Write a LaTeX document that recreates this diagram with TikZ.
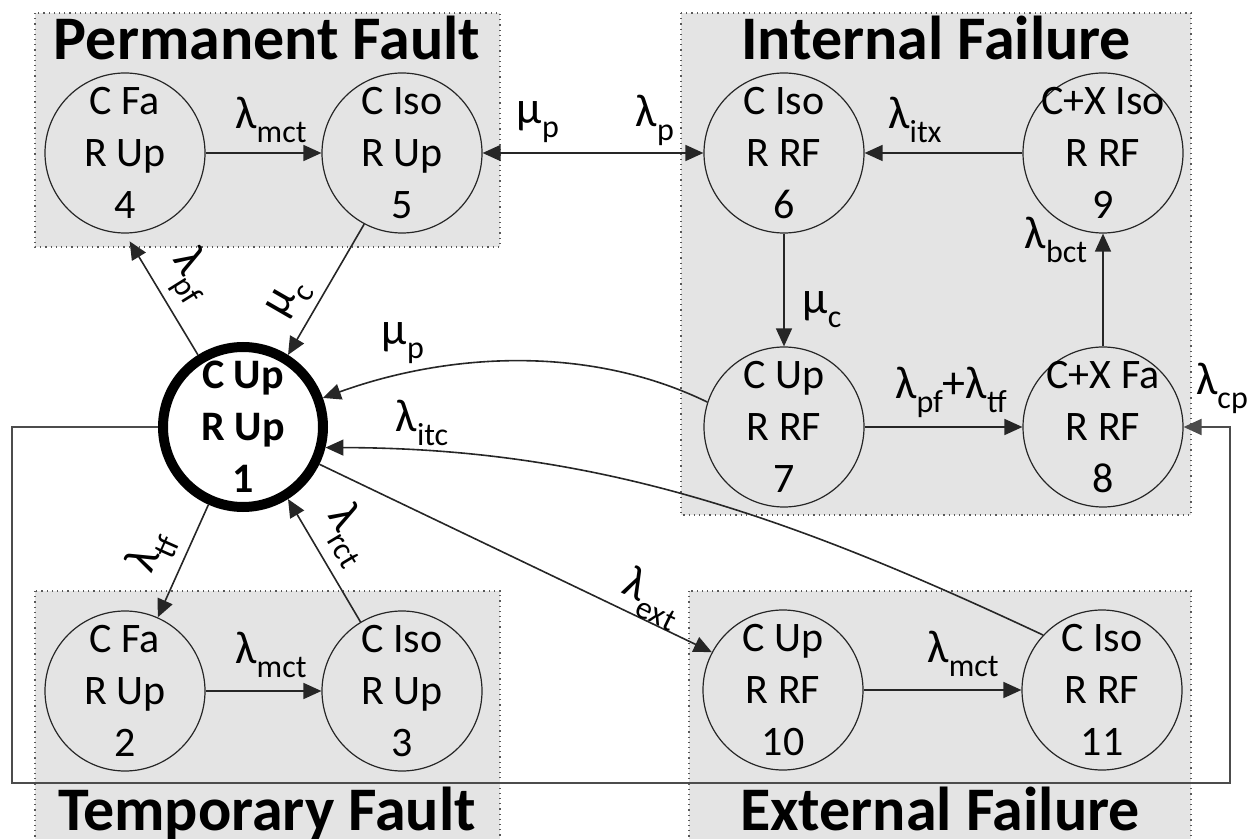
\documentclass[tikz,border=0pt]{standalone}
\usepackage{fontspec}
\setmainfont{Carlito}
\usetikzlibrary{arrows.meta}
\definecolor{boxgray}{RGB}{228,228,228}
\newcommand\sbs[1]{\raisebox{-7pt}{\fontsize{16}{16}\selectfont #1}}
\newcommand\stt[3]{\parbox[c][40pt][c]{40pt}{\centering\makebox[0pt]{#1}\\\makebox[0pt]{#2}\\\makebox[0pt]{#3}}}
\begin{document}
\begin{tikzpicture}[x=0.5pt,y=-0.5pt,
  box/.style={draw=black!65, dotted, line width=0.6pt, fill=boxgray},
  state/.style={circle, draw=black!85, line width=0.6pt, fill=boxgray, minimum size=80pt, inner sep=0pt, font=\fontsize{21}{26}\selectfont},
  startstate/.style={state, line width=5pt, draw=black, fill=white, font=\fontsize{21}{26}\selectfont\bfseries},
  arr/.style={-{Triangle[length=9pt,width=8pt]}, line width=0.8pt, draw=black!85},
  dbl/.style={{Triangle[length=9pt,width=8pt]}-{Triangle[length=9pt,width=8pt]}, line width=0.8pt, draw=black!85},
  loopline/.style={arr, draw=black!70, line width=1pt},
  lab/.style={font=\fontsize{23}{26}\selectfont, inner sep=0pt},
  title/.style={font=\fontsize{31}{31}\selectfont\bfseries, anchor=base, inner sep=0pt}
]
\useasboundingbox (0,0) rectangle (1253,839);
% group boxes
\draw[box] (35,13) rectangle (500,247);
\draw[box] (681,13) rectangle (1191,515);
\draw[box] (35,591) rectangle (500,850);
\draw[box] (689,591) rectangle (1191,850);
% titles
\node[title] (tPF) at (267,60) {Permanent Fault};
\node[title] (tIF) at (936,60) {Internal Failure};
\node[title] (tTF) at (267,830) {Temporary Fault};
\node[title] (tEF) at (940,830) {External Failure};
% states
\node[startstate] (n1) at (243,427) {\stt{C Up}{R Up}{1}};
\node[state] (n2) at (125,691) {\stt{C Fa}{R Up}{2}};
\node[state] (n3) at (402,691) {\stt{C Iso}{R Up}{3}};
\node[state] (n4) at (125,153) {\stt{C Fa}{R Up}{4}};
\node[state] (n5) at (402,153) {\stt{C Iso}{R Up}{5}};
\node[state] (n6) at (784,153) {\stt{C Iso}{R RF}{6}};
\node[state] (n7) at (784,427) {\stt{C Up}{R RF}{7}};
\node[state] (n8) at (1103,427) {\stt{C+X Fa}{R RF}{8}};
\node[state] (n9) at (1103,153) {\stt{C+X Iso}{R RF}{9}};
\node[state] (n10) at (783,690) {\stt{C Up}{R RF}{10}};
\node[state] (n11) at (1102,690) {\stt{C Iso}{R RF}{11}};
% loop from 1 to 8
\coordinate (lpA) at (12,783);
\coordinate (lpB) at (1230,783);
\draw[loopline] (n1.west) -| (lpA) -- (lpB) |- (n8.east);
% connectors
\draw[arr] (n4) -- (n5);
\draw[dbl] (n5) -- (n6);
\draw[arr] (n9) -- (n6);
\draw[arr] (n6) -- (n7);
\draw[arr] (n7) -- (n8);
\draw[arr] (n8) -- (n9);
\draw[arr] (n2) -- (n3);
\draw[arr] (n10) -- (n11);
\draw[arr, shorten >=4.5pt] (n1.122) -- (n4.-90);
\draw[arr] (n5.242) -- (n1.58);
\draw[arr] (n1.246) -- (n2.66);
\draw[arr] (n3.121) -- (n1.-58);
\draw[arr] (n1.-26) -- (n10.152);
\draw[arr] (n7.162) .. controls (590,345) and (450,352) .. (n1.20);
\draw[arr] (n11.137) .. controls (793,518) and (600,448) .. (n1.-14);
% labels
\node[lab] (l45) at (271,120) {λ\sbs{mct}};
\node[lab] (l56a) at (538,122) {μ\sbs{p}};
\node[lab] (l56b) at (655,120) {λ\sbs{p}};
\node[lab] (l96) at (915,120) {λ\sbs{itx}};
\node[lab] (l89) at (1056,240) {λ\sbs{bct}};
\node[lab] (l67) at (822,310) {μ\sbs{c}};
\node[lab] (l78) at (951,392) {λ\sbs{pf}+λ\sbs{tf}};
\node[lab] (l18) at (1222,388) {λ\sbs{cp}};
\node[lab] (l71) at (403,343) {μ\sbs{p}};
\node[lab] (l111) at (422,423) {λ\sbs{itc}};
\node[lab] (l23) at (271,655) {λ\sbs{mct}};
\node[lab] (l1011) at (963,654) {λ\sbs{mct}};
\node[lab, rotate=-26] (l110) at (652,598) {λ\sbs{ext}};
\node[lab, rotate=66] (l12) at (152,552) {λ\sbs{tf}};
\node[lab, rotate=-59] (l31) at (349,535) {λ\sbs{rct}};
\node[lab, rotate=-58] (l14) at (190,276) {λ\sbs{pf}};
\node[lab, rotate=60] (l51) at (290,300) {μ\sbs{c}};
\end{tikzpicture}
\end{document}
